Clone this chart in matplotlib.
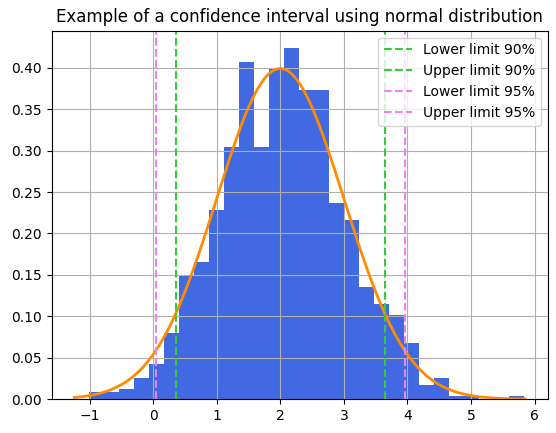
import numpy as np
import matplotlib
matplotlib.use('Agg')
from matplotlib import pyplot as plt

# histograma (densidad)
bin_start = -1.015
bin_width = 0.2362
densidad = [0.0085, 0.0085, 0.0127, 0.0254, 0.0423, 0.0804, 0.1482, 0.1651,
            0.2286, 0.3048, 0.4064, 0.3048, 0.3980, 0.4234, 0.3726, 0.3726,
            0.2371, 0.2159, 0.1355, 0.1143, 0.1016, 0.0677, 0.0169, 0.0254,
            0.0042, 0.0042, 0.0, 0.0, 0.0042]

media = 2.0
desv = 1.0
curva_min, curva_max = -1.24, 5.85

lim_90 = (media - 1.645 * desv, media + 1.645 * desv)
lim_95 = (media - 1.96 * desv, media + 1.96 * desv)

bordes = bin_start + bin_width * np.arange(len(densidad))

fig, ax = plt.subplots(figsize=(5.56, 4.33))
fig.subplots_adjust(left=0.093, right=0.985, bottom=0.078, top=0.929)

ax.bar(bordes, densidad, width=bin_width, align='edge', color='royalblue')

x = np.linspace(curva_min, curva_max, 300)
pdf = np.exp(-0.5 * ((x - media) / desv) ** 2) / (desv * np.sqrt(2 * np.pi))
ax.plot(x, pdf, color='darkorange', linewidth=2)

ax.axvline(lim_90[0], color='limegreen', linestyle='--', label='Lower limit 90%')
ax.axvline(lim_90[1], color='limegreen', linestyle='--', label='Upper limit 90%')
ax.axvline(lim_95[0], color='violet', linestyle='--', label='Lower limit 95%')
ax.axvline(lim_95[1], color='violet', linestyle='--', label='Upper limit 95%')

ax.set_title('Example of a confidence interval using normal distribution')
ax.grid(True)
ax.legend(loc='upper right')

plt.savefig('out.png')
